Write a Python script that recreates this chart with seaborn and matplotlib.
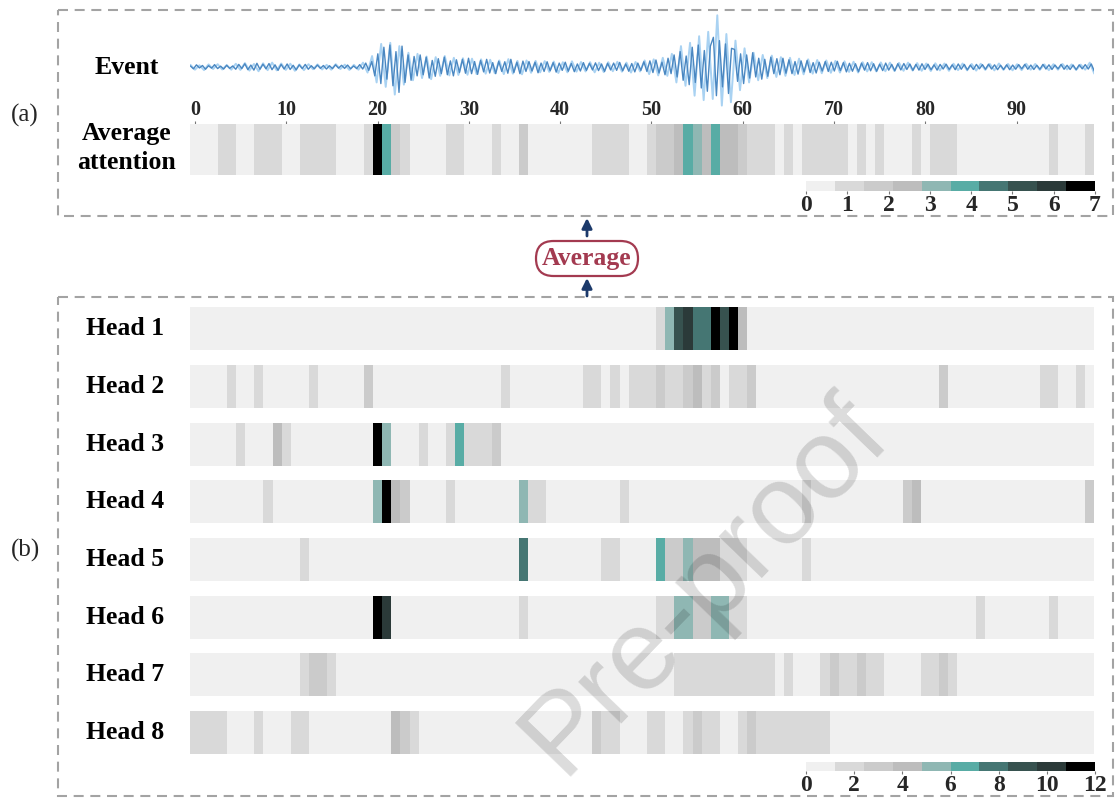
import numpy as np
import matplotlib
matplotlib.use("Agg")
import matplotlib.pyplot as plt
import seaborn as sns
from matplotlib.colors import ListedColormap
from matplotlib.patches import Rectangle, FancyBboxPatch

# ---------------------------------------------------------------- data
time_ticks = [0, 10, 20, 30, 40, 50, 60, 70, 80, 90]

# seismogram, dark trace (3 samples per time step)
wave_dark = [
    0.05, -0.08, 0.10, -0.04, 0.07, -0.10, 0.06, -0.05, 0.11, -0.07, 0.04, -0.09, 0.08, -0.06, 0.05,
    -0.10, 0.12, -0.07, 0.15, -0.12, 0.09, -0.14, 0.17, -0.10, 0.13, -0.08, 0.16, -0.12, 0.10, -0.15,
    0.12, -0.09, 0.14, -0.11, 0.08, -0.13, 0.10, -0.07, 0.12, -0.10, 0.06, -0.08, 0.09, -0.06, 0.07,
    -0.09, 0.06, -0.07, 0.10, -0.05, 0.08, -0.06, 0.09, -0.08, 0.05, -0.07, 0.11, -0.09, 0.18, -0.15,
    0.25, -0.40, 0.60, -0.75, 0.90, -0.55, 1.00, -0.85, 0.70, -1.15, 0.95, -0.70, 0.55, -0.60, 0.48,
    -0.40, 0.55, -0.35, 0.45, -0.50, 0.30, -0.42, 0.38, -0.30, 0.45, -0.35, 0.28, -0.40, 0.33, -0.25,
    0.35, -0.28, 0.40, -0.30, 0.25, -0.33, 0.30, -0.22, 0.35, -0.27, 0.20, -0.30, 0.26, -0.20, 0.24,
    -0.28, 0.35, -0.25, 0.22, -0.30, 0.27, -0.20, 0.25, -0.18, 0.22, -0.26, 0.18, -0.20, 0.24, -0.17,
    0.20, -0.23, 0.18, -0.15, 0.22, -0.19, 0.16, -0.21, 0.14, -0.18, 0.20, -0.15, 0.17, -0.13, 0.19,
    -0.16, 0.14, -0.20, 0.17, -0.13, 0.18, -0.15, 0.21, -0.17, 0.14, -0.19, 0.16, -0.22, 0.18, -0.15,
    0.24, -0.20, 0.28, -0.25, 0.32, -0.27, 0.22, -0.35, 0.40, -0.30, 0.55, -0.45, 0.70, -0.60, 0.50,
    -0.80, 0.90, -0.70, 1.00, -0.95, 0.75, -1.10, 0.95, 1.35, -1.30, 1.20, -0.90, 1.05, -1.20, 0.85,
    0.80, -0.65, 0.60, -0.75, 0.55, -0.50, 0.65, -0.45, 0.40, -0.55, 0.35, -0.42, 0.45, -0.30, 0.38,
    -0.35, 0.40, -0.28, 0.33, -0.30, 0.25, -0.32, 0.28, -0.22, 0.30, -0.25, 0.20, -0.27, 0.22, -0.18,
    0.25, -0.20, 0.22, -0.18, 0.26, -0.16, 0.20, -0.22, 0.17, -0.19, 0.15, -0.21, 0.18, -0.14, 0.20,
    -0.17, 0.15, -0.19, 0.13, -0.16, 0.18, -0.14, 0.12, -0.17, 0.15, -0.13, 0.16, -0.11, 0.14, -0.15,
    0.12, -0.14, 0.15, -0.11, 0.13, -0.12, 0.10, -0.14, 0.12, -0.09, 0.13, -0.11, 0.10, -0.12, 0.14,
    -0.10, 0.12, -0.13, 0.09, -0.11, 0.12, -0.08, 0.11, -0.10, 0.13, -0.09, 0.10, -0.12, 0.08, -0.11,
    0.10, -0.12, 0.09, -0.10, 0.11, -0.08, 0.12, -0.10, 0.09, -0.11, 0.08, -0.10, 0.12, -0.09, 0.10,
    -0.11, 0.09, -0.08, 0.12, -0.10, 0.08, -0.11, 0.09, -0.12, 0.10, -0.08, 0.11, -0.09, 0.14, -0.18,
]

# seismogram, light trace (2 samples per time step)
wave_light = [
    0.10, -0.12, 0.08, -0.14, 0.12, -0.09, 0.13, -0.11, 0.09, -0.12,
    0.15, -0.13, 0.18, -0.16, 0.14, -0.19, 0.17, -0.14, 0.20, -0.15,
    0.16, -0.13, 0.15, -0.17, 0.12, -0.14, 0.13, -0.10, 0.12, -0.11,
    0.10, -0.12, 0.13, -0.09, 0.11, -0.13, 0.10, -0.12, 0.20, -0.25,
    0.50, -0.70, 1.05, -0.90, 1.10, -1.25, 0.95, -0.80, 0.65, -0.60,
    0.60, -0.50, 0.48, -0.55, 0.45, -0.40, 0.50, -0.38, 0.42, -0.36,
    0.40, -0.35, 0.38, -0.32, 0.35, -0.30, 0.33, -0.28, 0.30, -0.32,
    0.36, -0.30, 0.28, -0.33, 0.30, -0.26, 0.28, -0.24, 0.27, -0.22,
    0.25, -0.27, 0.22, -0.24, 0.26, -0.21, 0.23, -0.20, 0.22, -0.24,
    0.20, -0.23, 0.22, -0.19, 0.24, -0.21, 0.20, -0.25, 0.23, -0.20,
    0.30, -0.32, 0.35, -0.38, 0.42, -0.40, 0.60, -0.70, 0.95, -0.85,
    1.10, -1.30, 1.40, -1.50, 1.60, -1.45, 2.35, -1.75, 1.50, -1.60,
    1.20, -1.05, 0.85, -0.70, 0.65, -0.60, 0.55, -0.50, 0.52, -0.45,
    0.45, -0.40, 0.42, -0.36, 0.38, -0.33, 0.35, -0.30, 0.32, -0.28,
    0.30, -0.26, 0.28, -0.25, 0.26, -0.22, 0.24, -0.25, 0.22, -0.20,
    0.22, -0.20, 0.21, -0.19, 0.20, -0.18, 0.19, -0.17, 0.20, -0.16,
    0.18, -0.17, 0.16, -0.18, 0.17, -0.15, 0.16, -0.17, 0.15, -0.14,
    0.16, -0.15, 0.14, -0.16, 0.15, -0.13, 0.14, -0.15, 0.16, -0.13,
    0.14, -0.15, 0.13, -0.14, 0.15, -0.12, 0.14, -0.13, 0.12, -0.14,
    0.13, -0.12, 0.14, -0.11, 0.12, -0.13, 0.11, -0.12, 0.20, -0.30,
]

# averaged attention over the 8 heads (0-7 scale)
avg_attention = [
    0.3, 0.4, 0.3, 1.1, 1.0, 0.4, 0.3, 1.0, 1.1, 1.0,
    0.4, 0.5, 1.0, 1.1, 1.2, 1.0, 0.4, 0.3, 0.5, 0.9,
    6.8, 3.8, 1.7, 1.0, 0.4, 0.3, 0.5, 0.4, 1.0, 1.1,
    0.4, 0.3, 0.5, 1.0, 0.4, 0.5, 1.8, 0.4, 0.3, 0.5,
    0.4, 0.3, 0.5, 0.6, 1.0, 1.2, 1.1, 1.0, 0.4, 0.5,
    1.1, 1.6, 1.8, 2.3, 3.8, 3.2, 2.4, 3.9, 2.3, 2.2,
    1.7, 1.2, 1.0, 1.1, 0.5, 1.0, 0.4, 1.1, 1.0, 1.0,
    1.1, 1.0, 0.5, 1.0, 0.4, 1.0, 0.3, 0.4, 0.5, 1.0,
    0.4, 1.0, 1.1, 1.0, 0.4, 0.3, 0.5, 0.4, 0.3, 0.4,
    0.5, 0.3, 0.4, 0.5, 1.0, 0.4, 0.3, 0.5, 1.0,
]

# attention of each head (0-12 scale)
head_1 = [
    0.4, 0.6, 0.5, 0.3, 0.5, 0.7, 0.4, 0.5, 0.6, 0.4,
    0.5, 0.3, 0.6, 0.4, 0.5, 0.7, 0.5, 0.4, 0.6, 0.5,
    0.6, 0.5, 0.4, 0.5, 0.3, 0.6, 0.5, 0.4, 0.5, 0.6,
    0.4, 0.5, 0.6, 0.3, 0.5, 0.4, 0.6, 0.5, 0.4, 0.5,
    0.6, 0.4, 0.5, 0.7, 0.5, 0.4, 0.6, 0.5, 0.8, 0.9,
    1.0, 1.9, 5.5, 9.1, 10.3, 7.9, 8.2, 11.6, 9.0, 11.4,
    4.3, 0.9, 0.7, 0.5, 0.6, 0.4, 0.5, 0.6, 0.4, 0.5,
    0.5, 0.4, 0.6, 0.5, 0.3, 0.5, 0.6, 0.4, 0.5, 0.4,
    0.5, 0.6, 0.4, 0.5, 0.3, 0.6, 0.5, 0.4, 0.5, 0.6,
    0.4, 0.5, 0.6, 0.3, 0.5, 0.4, 0.6, 0.5, 0.4,
]
head_2 = [
    0.5, 0.4, 0.6, 0.5, 1.8, 0.4, 0.5, 1.9, 0.6, 0.4,
    0.5, 0.6, 0.4, 1.8, 0.5, 0.3, 0.6, 0.5, 0.4, 3.0,
    0.5, 0.4, 0.6, 0.5, 0.4, 0.5, 0.6, 0.4, 0.5, 0.3,
    0.6, 0.5, 0.4, 0.5, 1.9, 0.6, 0.5, 0.4, 0.5, 0.6,
    0.4, 0.5, 0.6, 2.2, 2.0, 0.5, 1.9, 0.6, 1.8, 2.0,
    1.9, 3.0, 1.8, 2.1, 3.1, 4.1, 1.9, 2.6, 0.9, 1.8,
    2.0, 2.5, 0.5, 0.4, 0.6, 0.5, 0.4, 0.5, 0.6, 0.4,
    0.5, 0.6, 0.4, 0.5, 0.3, 0.5, 0.6, 0.4, 0.5, 0.6,
    0.4, 0.5, 3.0, 0.6, 0.4, 0.5, 0.6, 0.4, 0.5, 0.3,
    0.5, 0.6, 0.4, 1.9, 2.0, 0.5, 0.4, 1.8, 0.6,
]
head_3 = [
    0.5, 0.4, 0.6, 0.5, 0.4, 1.8, 0.5, 0.6, 0.4, 4.0,
    1.9, 0.5, 0.4, 0.6, 0.5, 0.4, 0.6, 0.5, 0.4, 0.5,
    11.5, 5.5, 0.5, 0.6, 0.4, 1.8, 0.5, 0.6, 1.9, 6.6,
    2.0, 2.1, 1.9, 3.0, 0.5, 0.4, 0.6, 0.5, 0.4, 0.5,
    0.6, 0.4, 0.5, 0.6, 0.4, 0.5, 0.3, 0.6, 0.5, 0.4,
    0.5, 0.6, 0.4, 0.5, 0.6, 0.4, 0.5, 0.3, 0.6, 0.5,
    0.4, 0.5, 0.6, 0.4, 0.5, 0.6, 0.4, 0.5, 0.3, 0.6,
    0.5, 0.4, 0.6, 0.5, 0.4, 0.5, 0.6, 0.4, 0.5, 0.6,
    0.4, 0.5, 0.6, 0.3, 0.5, 0.4, 0.6, 0.5, 0.4, 0.5,
    0.6, 0.4, 0.5, 0.6, 0.4, 0.5, 0.3, 0.6, 0.5,
]
head_4 = [
    0.4, 0.5, 0.6, 0.5, 0.4, 0.6, 0.5, 0.4, 1.9, 0.5,
    0.6, 0.4, 0.5, 0.6, 0.4, 0.5, 0.3, 0.6, 0.5, 0.4,
    5.4, 11.6, 4.1, 3.1, 0.5, 0.6, 0.4, 0.5, 1.8, 0.6,
    0.5, 0.4, 0.6, 0.5, 0.4, 0.6, 5.3, 1.9, 2.0, 0.5,
    0.4, 0.6, 0.5, 0.4, 0.5, 0.6, 0.4, 1.9, 0.5, 0.6,
    0.4, 0.5, 0.6, 0.4, 0.5, 0.3, 0.6, 0.5, 0.4, 0.5,
    0.6, 0.4, 0.5, 0.6, 0.4, 0.5, 0.6, 1.8, 0.4, 0.5,
    0.6, 0.4, 0.5, 0.3, 0.6, 0.5, 0.4, 0.5, 3.0, 4.0,
    0.5, 0.6, 0.4, 0.5, 0.6, 0.4, 0.5, 0.3, 0.6, 0.5,
    0.4, 0.5, 0.6, 0.4, 0.5, 0.6, 0.4, 0.5, 3.1,
]
head_5 = [
    0.5, 0.6, 0.4, 0.5, 0.6, 0.4, 0.5, 0.3, 0.6, 0.5,
    0.4, 0.5, 1.9, 0.6, 0.4, 0.5, 0.6, 0.4, 0.5, 0.6,
    0.4, 0.5, 0.6, 0.4, 0.5, 0.3, 0.6, 0.5, 0.4, 0.5,
    0.6, 0.4, 0.5, 0.6, 0.4, 0.5, 7.9, 0.6, 0.4, 0.5,
    0.6, 0.4, 0.5, 0.3, 0.6, 1.9, 2.0, 0.4, 0.5, 0.6,
    0.5, 6.7, 3.0, 2.9, 5.5, 4.2, 4.0, 4.3, 2.2, 1.9,
    1.8, 0.6, 0.4, 0.5, 0.6, 0.4, 0.5, 1.9, 0.6, 0.4,
    0.5, 0.6, 0.4, 0.5, 0.3, 0.6, 0.5, 0.4, 0.5, 0.6,
    0.4, 0.5, 0.6, 0.4, 0.5, 0.6, 0.4, 0.5, 0.3, 0.6,
    0.5, 0.4, 0.5, 0.6, 0.4, 0.5, 0.6, 0.4, 0.5,
]
head_6 = [
    0.6, 0.4, 0.5, 0.6, 0.4, 0.5, 0.3, 0.6, 0.5, 0.4,
    0.5, 0.6, 0.4, 0.5, 0.6, 0.4, 0.5, 0.6, 0.4, 0.5,
    11.7, 10.2, 0.5, 0.6, 0.4, 0.5, 0.3, 0.6, 0.5, 0.4,
    0.5, 0.6, 0.4, 0.5, 0.6, 0.4, 1.9, 0.5, 0.6, 0.4,
    0.5, 0.3, 0.6, 0.5, 0.4, 0.5, 0.6, 0.4, 0.5, 0.6,
    0.4, 1.9, 2.0, 5.4, 5.6, 3.0, 2.8, 5.3, 5.5, 2.1,
    1.9, 0.5, 0.6, 0.4, 0.5, 0.6, 0.4, 0.5, 0.3, 0.6,
    0.5, 0.4, 0.5, 0.6, 0.4, 0.5, 0.6, 0.4, 0.5, 0.6,
    0.4, 0.5, 0.3, 0.6, 0.5, 0.4, 1.9, 0.5, 0.6, 0.4,
    0.5, 0.6, 0.4, 0.5, 1.8, 0.4, 0.5, 0.6, 0.4,
]
head_7 = [
    0.5, 0.4, 0.6, 0.5, 0.4, 0.5, 0.6, 0.4, 0.5, 0.3,
    0.6, 0.5, 1.9, 2.8, 2.7, 1.9, 0.5, 0.4, 0.6, 0.5,
    0.4, 0.5, 0.6, 0.4, 0.5, 0.6, 0.4, 0.5, 0.3, 0.6,
    0.5, 0.4, 0.5, 0.6, 0.4, 0.5, 0.6, 0.4, 0.5, 0.6,
    0.4, 0.5, 0.3, 0.6, 0.5, 0.4, 0.5, 0.6, 0.4, 0.5,
    0.6, 0.4, 0.5, 1.9, 2.0, 1.8, 1.9, 2.1, 1.9, 2.0,
    1.8, 2.0, 1.9, 1.8, 0.5, 1.9, 0.6, 0.4, 0.5, 2.0,
    2.8, 2.0, 1.9, 2.9, 1.8, 2.0, 0.5, 0.4, 0.6, 0.5,
    1.9, 2.0, 3.0, 1.9, 0.5, 0.6, 0.4, 0.5, 0.6, 0.4,
    0.5, 0.3, 0.6, 0.5, 0.4, 0.5, 0.6, 0.4, 0.5,
]
head_8 = [
    1.9, 1.8, 2.2, 1.9, 0.5, 0.4, 0.6, 1.8, 0.5, 0.4,
    0.6, 1.9, 1.8, 0.5, 0.4, 0.6, 0.5, 0.4, 0.5, 0.6,
    0.4, 0.5, 4.1, 3.0, 1.9, 0.5, 0.6, 0.4, 0.5, 0.3,
    0.6, 0.5, 0.4, 0.5, 0.6, 0.4, 0.5, 0.6, 0.4, 0.5,
    0.3, 0.6, 0.5, 0.4, 3.0, 1.9, 1.8, 0.5, 0.6, 0.4,
    1.9, 2.0, 0.5, 0.4, 1.9, 2.9, 1.8, 2.0, 0.6, 0.5,
    1.9, 2.8, 1.8, 2.0, 1.9, 2.1, 1.8, 1.9, 2.0, 1.8,
    0.5, 0.4, 0.6, 0.5, 0.4, 0.5, 0.6, 0.4, 0.5, 0.3,
    0.6, 0.5, 0.4, 0.5, 0.6, 0.4, 0.5, 0.6, 0.4, 0.5,
    0.6, 0.4, 0.5, 0.3, 0.6, 0.5, 0.4, 0.5, 0.6,
]
head_rows = [head_1, head_2, head_3, head_4, head_5, head_6, head_7, head_8]
head_names = ["Head 1", "Head 2", "Head 3", "Head 4",
              "Head 5", "Head 6", "Head 7", "Head 8"]
avg_cbar_ticks = [0, 1, 2, 3, 4, 5, 6, 7]
head_cbar_ticks = [0, 2, 4, 6, 8, 10, 12]

# ---------------------------------------------------------------- style
sns.set_theme(style="white")
plt.rcParams["font.family"] = ["Liberation Serif", "DejaVu Serif"]

attention_cmap = ListedColormap([
    "#f0f0f0", "#d9d9d9", "#cbcbcb", "#bdbdbd", "#8fb7b3",
    "#58aca5", "#457673", "#37524f", "#2b3a39", "#000000",
])

W, H = 1120, 801
fig = plt.figure(figsize=(W / 100, H / 100), dpi=100)
fig.patch.set_facecolor("white")


def px_box(x0, y0, x1, y1):
    """Axes rectangle given by pixel edges measured from the top-left."""
    return [x0 / W, 1 - y1 / H, (x1 - x0) / W, (y1 - y0) / H]


X0, X1 = 190.4, 1094.3
n_steps = len(avg_attention)
LABEL_FONT = dict(fontsize=18.5, fontweight="bold", color="black")

# ---------------------------------------------------------------- (a) waveform
ax_w = fig.add_axes(px_box(X0, 10, X1, 110))
t_dark = np.linspace(0, n_steps, len(wave_dark))
t_light = np.linspace(0, n_steps, len(wave_light))
sns.lineplot(x=t_light, y=wave_light, ax=ax_w, color="#a9d2f2", linewidth=1.4, sort=False)
sns.lineplot(x=t_dark, y=wave_dark, ax=ax_w, color="#4a87c1", linewidth=1.0, sort=False)
ax_w.set_xlim(0, n_steps)
ax_w.set_ylim(-1.95, 2.59)
ax_w.axis("off")

# ---------------------------------------------------------------- (a) average attention
ax_avg = fig.add_axes(px_box(X0, 124, X1, 175))
cax_a = fig.add_axes(px_box(806, 181, 1095, 191))
sns.heatmap(np.array(avg_attention)[None, :], ax=ax_avg, cmap=attention_cmap,
            vmin=0, vmax=7, cbar=True, cbar_ax=cax_a,
            cbar_kws={"orientation": "horizontal", "ticks": avg_cbar_ticks},
            xticklabels=False, yticklabels=False)
ax_avg.set_xticks(np.array(time_ticks) + 0.5)
ax_avg.set_xticklabels([str(v) for v in time_ticks])
ax_avg.tick_params(axis="x", top=True, bottom=False, labeltop=True, labelbottom=False,
                   length=2, width=0.8, color="#777777", pad=1, labelsize=14.5)
for lab in ax_avg.get_xticklabels():
    lab.set_fontweight("bold")

# ---------------------------------------------------------------- (b) heads
row_tops = [307, 365, 423, 480, 538, 596, 653, 711]
cax_b = fig.add_axes(px_box(806, 762, 1095, 771))
for k, (row, top) in enumerate(zip(head_rows, row_tops)):
    ax_h = fig.add_axes(px_box(X0, top, X1, top + 43))
    last = k == len(head_rows) - 1
    sns.heatmap(np.array(row)[None, :], ax=ax_h, cmap=attention_cmap,
                vmin=0, vmax=12, cbar=last, cbar_ax=cax_b if last else None,
                cbar_kws={"orientation": "horizontal", "ticks": head_cbar_ticks} if last else {},
                xticklabels=False, yticklabels=False)

for cax in (cax_a, cax_b):
    for sp in cax.spines.values():
        sp.set_visible(False)
    cax.tick_params(axis="x", bottom=True, length=2, width=0.8, color="#777777",
                    pad=1, labelsize=17)
    for lab in cax.get_xticklabels():
        lab.set_fontweight("bold")

# ---------------------------------------------------------------- annotations
ov = fig.add_axes([0, 0, 1, 1], zorder=10)
ov.set_xlim(0, W)
ov.set_ylim(H, 0)
ov.axis("off")

dash = (0, (4.8, 3.2))
for (x0, y0, x1, y1) in [(58, 10, 1113, 216), (58, 297, 1113, 796)]:
    ov.add_patch(Rectangle((x0, y0), x1 - x0, y1 - y0, fill=False,
                           edgecolor="#a3a3a3", linewidth=1.5, linestyle=dash))

ov.text(25, 115, "(a)", fontsize=18, ha="center", va="center")
ov.text(25, 550, "(b)", fontsize=18, ha="center", va="center")
ov.text(127, 67, "Event", ha="center", va="center", **LABEL_FONT)
ov.text(127, 148, "Average\nattention", ha="center", va="center",
        linespacing=1.3, **LABEL_FONT)
for name, top in zip(head_names, row_tops):
    ov.text(125, top + 21.5, name, ha="center", va="center", **LABEL_FONT)

arrow_kw = dict(arrowstyle="-|>", color="#1c3a6b", lw=2, mutation_scale=15,
                shrinkA=0, shrinkB=0)
ov.annotate("", xy=(587, 218), xytext=(587, 236), arrowprops=arrow_kw)
ov.annotate("", xy=(587, 278), xytext=(587, 296), arrowprops=arrow_kw)
ov.add_patch(FancyBboxPatch((536, 241), 102, 35,
                            boxstyle="round,pad=0,rounding_size=17.5",
                            facecolor="white", edgecolor="#a33a50", linewidth=1.6))
ov.text(587, 258.5, "Average", ha="center", va="center", fontsize=18.5,
        fontweight="bold", color="#a33a50")

ov.text(705, 585, "Pre-proof", rotation=46, ha="center", va="center",
        rotation_mode="anchor", fontsize=82, family="Liberation Sans",
        color="black", alpha=0.14)

fig.savefig("out.png", dpi=100, facecolor="white")
